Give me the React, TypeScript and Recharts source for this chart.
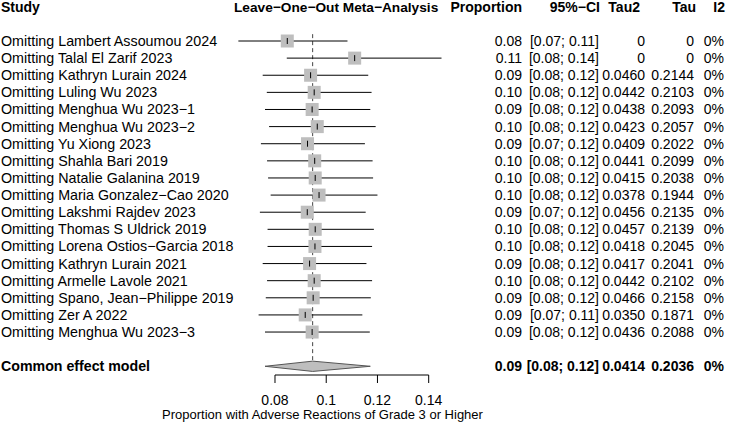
import React from 'react';
import { ComposedChart, Scatter, ErrorBar, XAxis, YAxis, ReferenceLine, Area } from 'recharts';

// ---------- data ----------
const studies = [
  'Omitting Lambert Assoumou 2024',
  'Omitting Talal El Zarif 2023',
  'Omitting Kathryn Lurain 2024',
  'Omitting Luling Wu 2023',
  'Omitting Menghua Wu 2023\u22121',
  'Omitting Menghua Wu 2023\u22122',
  'Omitting Yu Xiong 2023',
  'Omitting Shahla Bari 2019',
  'Omitting Natalie Galanina 2019',
  'Omitting Maria Gonzalez\u2212Cao 2020',
  'Omitting Lakshmi Rajdev 2023',
  'Omitting Thomas S Uldrick 2019',
  'Omitting Lorena Ostios\u2212Garcia 2018',
  'Omitting Kathryn Lurain 2021',
  'Omitting Armelle Lavole 2021',
  'Omitting Spano, Jean\u2212Philippe 2019',
  'Omitting Zer A 2022',
  'Omitting Menghua Wu 2023\u22123',
];
const estimates = [0.0848, 0.1111, 0.0939, 0.0953, 0.0945, 0.0965, 0.0927, 0.0955, 0.0957, 0.0972, 0.0926, 0.0957, 0.0956, 0.0935, 0.0953, 0.0949, 0.0918, 0.0945];
const lowerCI = [0.0657, 0.0846, 0.0752, 0.0768, 0.0761, 0.0777, 0.0745, 0.0769, 0.0773, 0.0783, 0.0741, 0.0771, 0.0771, 0.0752, 0.0769, 0.0764, 0.0736, 0.0761];
const upperCI = [0.1083, 0.1450, 0.1164, 0.1177, 0.1172, 0.1193, 0.1151, 0.1181, 0.1183, 0.1200, 0.1154, 0.1186, 0.1179, 0.1157, 0.1179, 0.1174, 0.1141, 0.1170];
const propLabels = ['0.08', '0.11', '0.09', '0.10', '0.09', '0.10', '0.09', '0.10', '0.10', '0.10', '0.09', '0.10', '0.10', '0.09', '0.10', '0.09', '0.09', '0.09'];
const ciLabels = [
  '[0.07; 0.11]', '[0.08; 0.14]', '[0.08; 0.12]', '[0.08; 0.12]', '[0.08; 0.12]', '[0.08; 0.12]',
  '[0.07; 0.12]', '[0.08; 0.12]', '[0.08; 0.12]', '[0.08; 0.12]', '[0.07; 0.12]', '[0.08; 0.12]',
  '[0.08; 0.12]', '[0.08; 0.12]', '[0.08; 0.12]', '[0.08; 0.12]', '[0.07; 0.11]', '[0.08; 0.12]',
];
const tau2Labels = ['0', '0', '0.0460', '0.0442', '0.0438', '0.0423', '0.0409', '0.0441', '0.0415', '0.0378', '0.0456', '0.0457', '0.0418', '0.0417', '0.0442', '0.0466', '0.0350', '0.0436'];
const tauLabels = ['0', '0', '0.2144', '0.2103', '0.2093', '0.2057', '0.2022', '0.2099', '0.2038', '0.1944', '0.2135', '0.2139', '0.2045', '0.2041', '0.2102', '0.2158', '0.1871', '0.2088'];
const i2Labels = ['0%', '0%', '0%', '0%', '0%', '0%', '0%', '0%', '0%', '0%', '0%', '0%', '0%', '0%', '0%', '0%', '0%', '0%'];

const commonLabel = 'Common effect model';
const commonEstimate = 0.0947;
const commonLower = 0.0761;
const commonUpper = 0.1172;
const commonTexts = ['0.09', '[0.08; 0.12]', '0.0414', '0.2036', '0%'];

const headers = ['Study', 'Leave\u2212One\u2212Out Meta\u2212Analysis', 'Proportion', '95%\u2212CI', 'Tau2', 'Tau', 'I2'];
const axisTicks = [0.08, 0.1, 0.12, 0.14];
const axisTitle = 'Proportion with Adverse Reactions of Grade 3 or Higher';

// ---------- layout / style ----------
const W = 730;
const H = 429;
const FONT = '"Liberation Sans", Arial, Helvetica, sans-serif';
const FS = 14;
const HEADER_ROW = -2;
const COMMON_ROW = studies.length + 1;
const DIAMOND_HALF = 0.3;
const X_DOMAIN: [number, number] = [-0.02735, 0.25762];
const Y_DOMAIN: [number, number] = [-2.395, 19.509];
const SQUARE = 13;
const GRAY = '#BEBEBE';

const bodyCols = [
  { x: 1, anchor: 'start', fs: 14.3 },
  { x: 522, anchor: 'end', fs: FS },
  { x: 599, anchor: 'end', fs: FS },
  { x: 645, anchor: 'end', fs: FS },
  { x: 694, anchor: 'end', fs: FS },
  { x: 724, anchor: 'end', fs: FS },
];
const headerCols = [
  { x: 1, anchor: 'start', fs: FS },
  { x: 234, anchor: 'start', fs: 13.7 },
  { x: 522, anchor: 'end', fs: FS },
  { x: 600, anchor: 'end', fs: FS },
  { x: 640, anchor: 'end', fs: FS },
  { x: 696, anchor: 'end', fs: FS },
  { x: 725, anchor: 'end', fs: FS },
];

// ---------- tables built from arrays ----------
const rowData = studies.map((s, i) => ({
  x: estimates[i],
  y: i,
  err: [estimates[i] - lowerCI[i], upperCI[i] - estimates[i]],
}));

const textRows = [
  { x: 0.1, y: HEADER_ROW, cells: headers, bold: true, header: true },
  ...studies.map((s, i) => ({
    x: 0.1,
    y: i,
    cells: [s, propLabels[i], ciLabels[i], tau2Labels[i], tauLabels[i], i2Labels[i]],
    bold: false,
    header: false,
  })),
  { x: 0.1, y: COMMON_ROW, cells: [commonLabel, ...commonTexts], bold: true, header: false },
];

const diamondData = [
  { x: commonLower, band: [COMMON_ROW, COMMON_ROW] },
  { x: commonEstimate, band: [COMMON_ROW - DIAMOND_HALF, COMMON_ROW + DIAMOND_HALF] },
  { x: commonUpper, band: [COMMON_ROW, COMMON_ROW] },
];

// ---------- shapes ----------
const SquareShape = (props: any) => {
  const { cx, cy } = props;
  return <rect x={cx - SQUARE / 2} y={cy - SQUARE / 2} width={SQUARE} height={SQUARE} fill={GRAY} />;
};

const TickShape = (props: any) => {
  const { cx, cy } = props;
  return <line x1={cx} x2={cx} y1={cy - 3} y2={cy + 3} stroke="#000" strokeWidth={1} />;
};

const TextRow = (props: any) => {
  const { cy, payload } = props;
  const cols = payload.header ? headerCols : bodyCols;
  return (
    <g>
      {payload.cells.map((c: string, i: number) => (
        <text
          key={i}
          x={cols[i].x}
          y={cy + 5}
          textAnchor={cols[i].anchor as any}
          fontFamily={FONT}
          fontSize={payload.bold && !payload.header && i === 0 ? 14.2 : cols[i].fs}
          fontWeight={payload.bold ? 'bold' : 'normal'}
          fill="#000"
        >
          {c}
        </text>
      ))}
    </g>
  );
};

export default function App() {
  return (
    <div style={{ position: 'absolute', left: 0, top: 0, width: W, height: H, background: '#fff' }}>
      <ComposedChart width={W} height={H} margin={{ top: 0, right: 0, bottom: 0, left: 0 }}>
        <XAxis
          type="number"
          dataKey="x"
          domain={X_DOMAIN}
          allowDataOverflow
          ticks={axisTicks}
          tickFormatter={(v: number) => String(v)}
          axisLine={false}
          tickLine={{ stroke: '#000', strokeWidth: 1 }}
          tickSize={8}
          tickMargin={12}
          height={54}
          interval={0}
          tick={{ fill: '#000', fontSize: FS, fontFamily: FONT }}
          label={{
            value: axisTitle,
            position: 'insideBottom',
            offset: 10,
            dx: -42.5,
            fill: '#000',
            fontSize: 13,
            fontFamily: FONT,
          }}
        />
        <YAxis type="number" dataKey="y" domain={Y_DOMAIN} allowDataOverflow reversed hide />
        <ReferenceLine
          segment={[
            { x: axisTicks[0], y: Y_DOMAIN[1] },
            { x: axisTicks[axisTicks.length - 1], y: Y_DOMAIN[1] },
          ]}
          stroke="#000"
          strokeWidth={1}
        />
        <ReferenceLine
          segment={[
            { x: commonEstimate, y: -0.4 },
            { x: commonEstimate, y: COMMON_ROW - DIAMOND_HALF },
          ]}
          stroke="#444"
          strokeWidth={1}
          strokeDasharray="4 3"
        />
        <Scatter data={rowData} shape={SquareShape} isAnimationActive={false} />
        <Scatter data={rowData} shape={TickShape} isAnimationActive={false}>
          <ErrorBar dataKey="err" direction="x" width={0} stroke="#000" strokeWidth={1} isAnimationActive={false} />
        </Scatter>
        <Area
          data={diamondData}
          dataKey="band"
          type="linear"
          fill={GRAY}
          fillOpacity={1}
          stroke="#555"
          strokeWidth={1}
          dot={false}
          activeDot={false}
          isAnimationActive={false}
        />
        <Scatter data={textRows} shape={TextRow} isAnimationActive={false} />
      </ComposedChart>
    </div>
  );
}
